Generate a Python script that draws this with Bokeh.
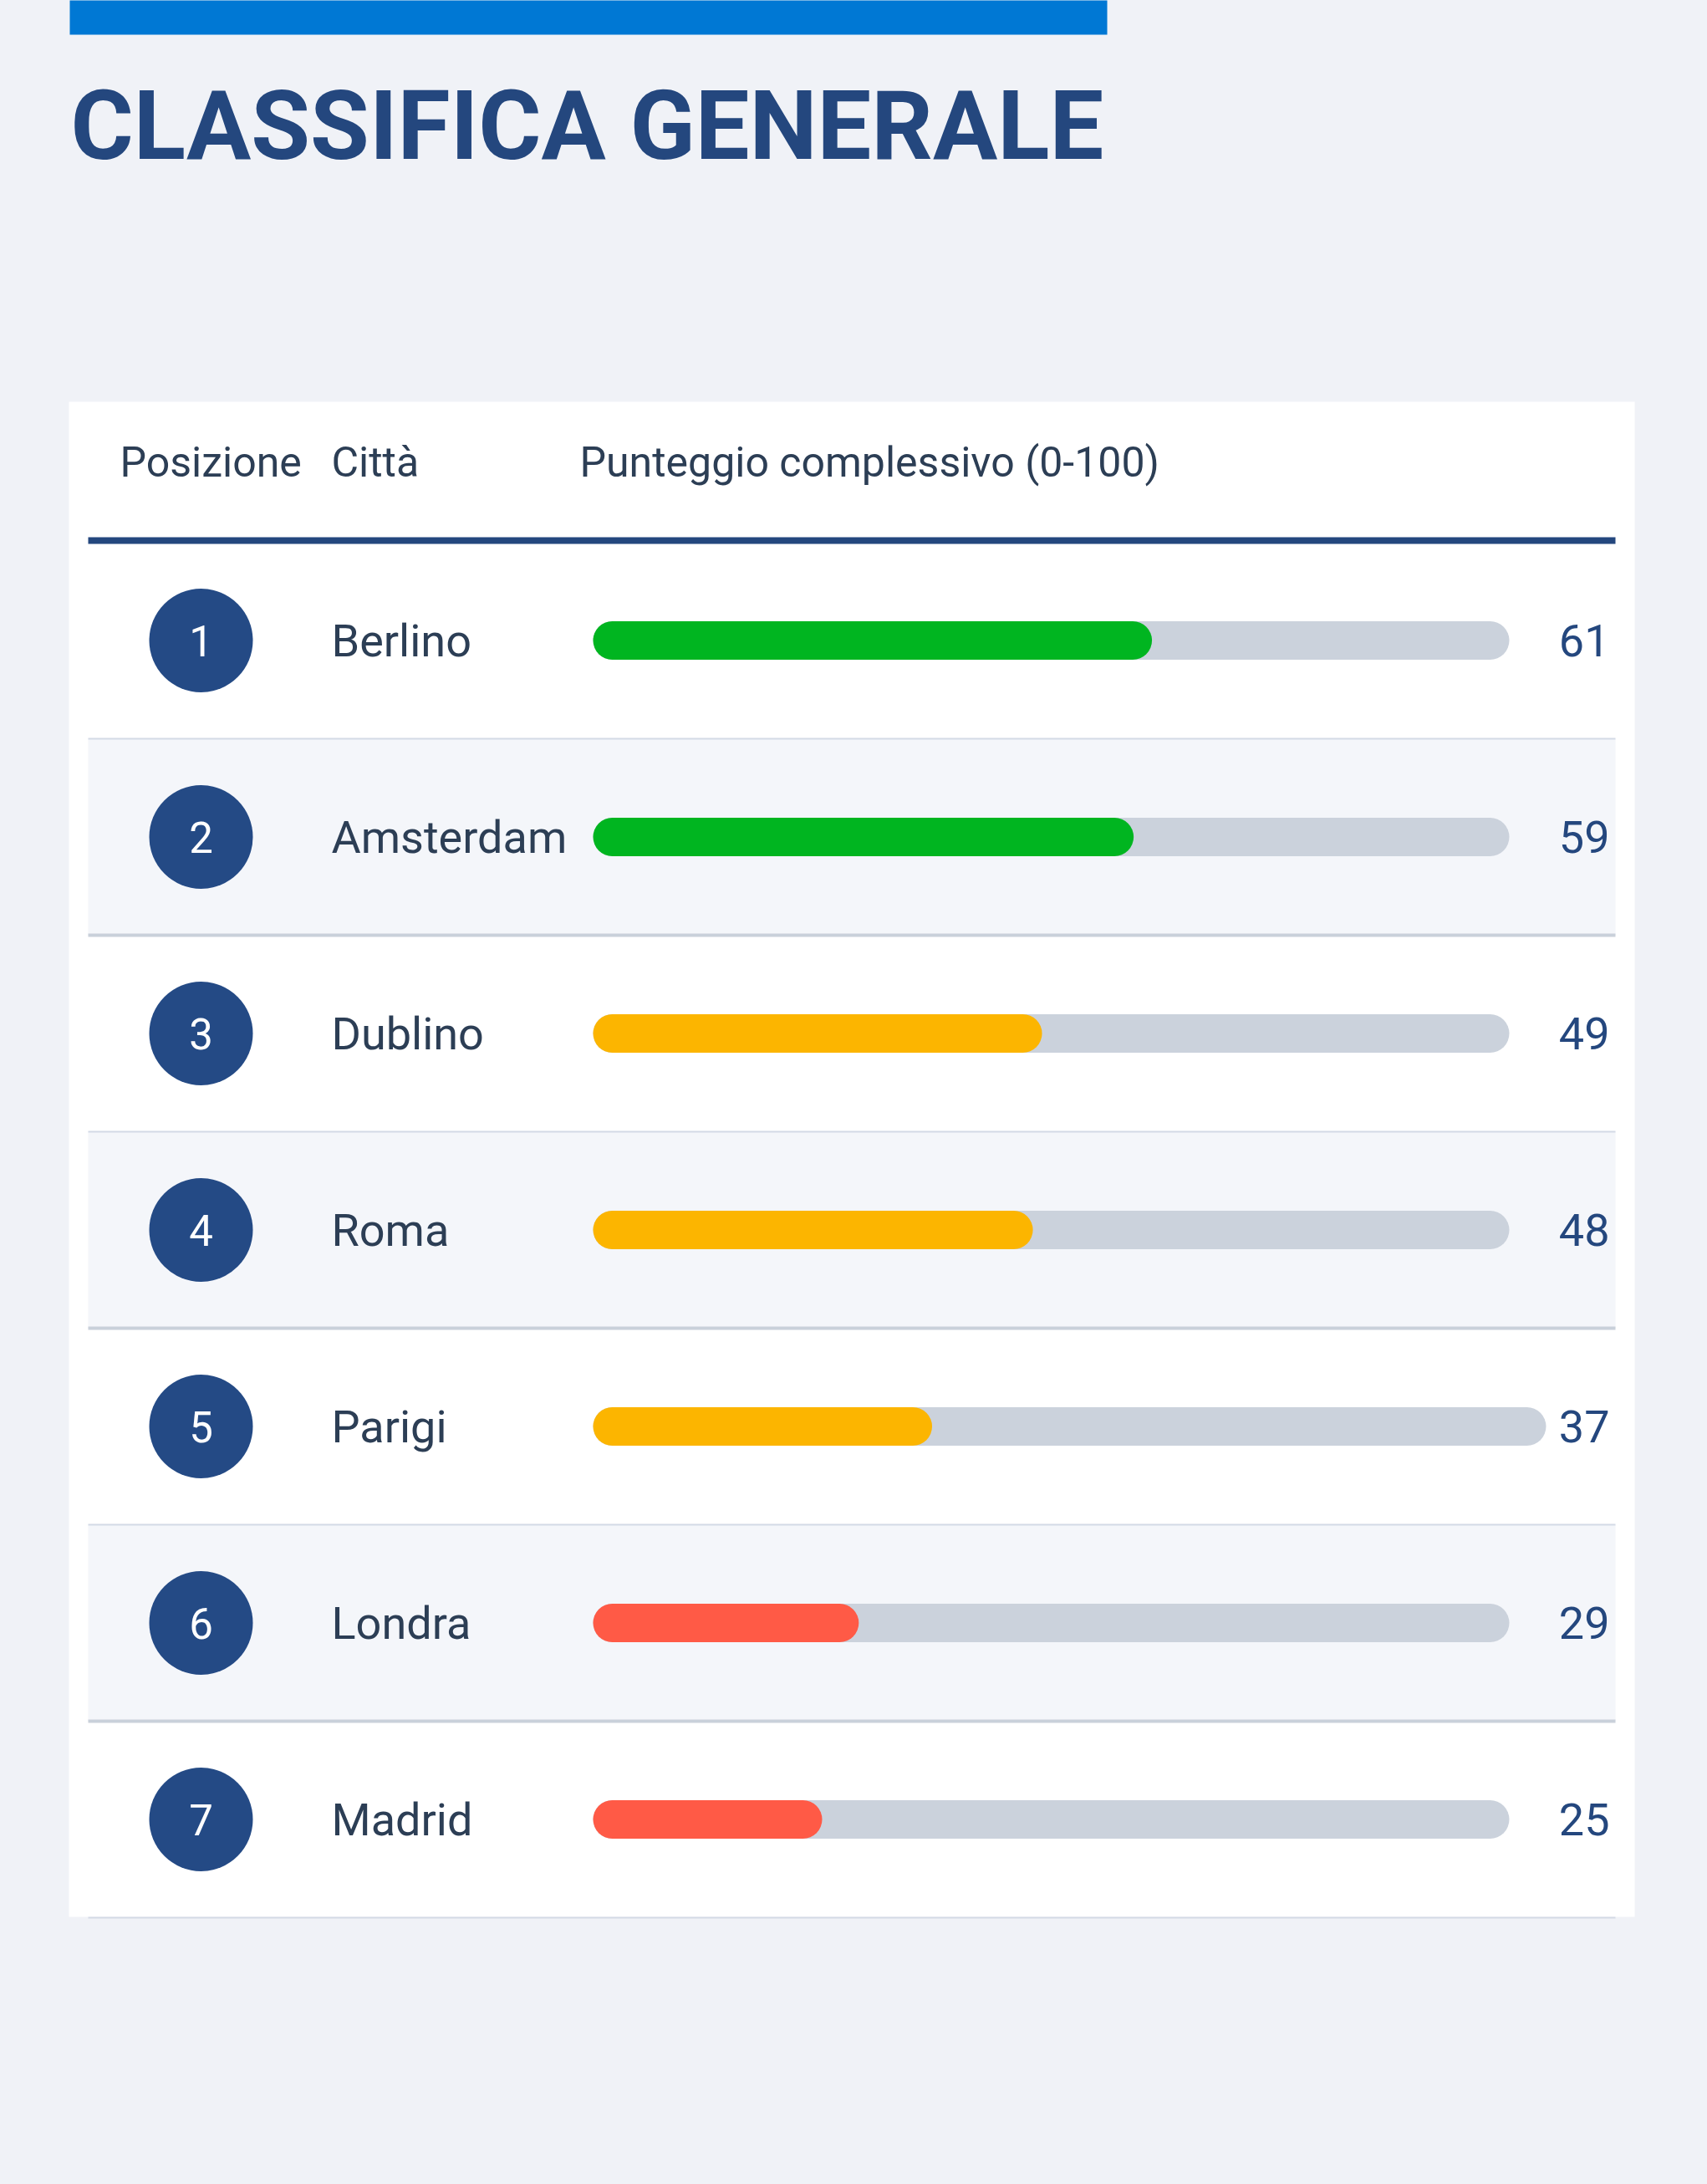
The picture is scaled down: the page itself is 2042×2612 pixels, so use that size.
import numpy as np
from bokeh.core.properties import value
from bokeh.embed import file_html
from bokeh.models import Range1d
from bokeh.plotting import figure
from bokeh.resources import INLINE

# Ranking data
positions = [1, 2, 3, 4, 5, 6, 7]
cities = ["Berlino", "Amsterdam", "Dublino", "Roma", "Parigi", "Londra", "Madrid"]
scores = [61, 59, 49, 48, 37, 29, 25]
headers = ["Posizione", "Città", "Punteggio complessivo (0-100)"]
title_text = "CLASSIFICA GENERALE"

# colours and layout (pixel units of the page)
page_bg = "#f0f2f7"
navy = "#24477e"
slate = "#2c3e55"
track_col = "#cbd2dc"


def tier_colour(s):
    if s >= 55:
        return "#00b520"
    if s >= 35:
        return "#fcb500"
    return "#ff5a46"


W, H = 2026, 2596
row_top0 = 648
row_h = 235
bar_x0 = 709
bar_full = 1096
bar_h = 46
track_w = [1096, 1096, 1096, 1096, 1140, 1096, 1096]

n = len(cities)
idx = np.arange(n)
row_top = row_top0 + idx * row_h
row_bot = row_top + row_h
row_mid = row_top + row_h / 2
fill_end = bar_x0 + np.array(scores) / 100 * bar_full
track_end = bar_x0 + np.array(track_w)

p = figure(width=W, height=H, x_range=Range1d(0, W), y_range=Range1d(H, 0),
           output_backend="svg", toolbar_location=None, min_border=0)
p.axis.visible = False
p.grid.visible = False
p.outline_line_color = None
p.background_fill_color = page_bg
p.border_fill_color = page_bg

# top blue strip and title
p.quad(left=83, right=1324, top=-10, bottom=41, color="#0078d4", line_color=None)
p.text(x=[84], y=[150], text=[title_text], text_font=value("Roboto"),
       text_font_style="bold", text_font_size="115px", text_color=navy,
       text_baseline="middle")

# white card
p.quad(left=82, right=1955, top=480, bottom=2292, color="white", line_color=None)

# shaded even rows
even = idx[idx % 2 == 1]
p.quad(left=105, right=1932, top=row_top[even], bottom=row_bot[even],
       color="#f4f6fa", line_color=None)

# header
p.text(x=[143, 396, 693], y=[552] * 3, text=headers, text_font=value("Roboto"),
       text_font_size="50px", text_color=slate, text_baseline="middle")
p.segment(x0=105, x1=1932, y0=646, y1=646, line_color=navy, line_width=8)

# row separators
odd = idx[idx % 2 == 0]
p.segment(x0=105, x1=1932, y0=row_bot[odd], y1=row_bot[odd], line_color="#d3dae6", line_width=2)
p.segment(x0=105, x1=1932, y0=row_bot[even], y1=row_bot[even], line_color="#c9d0da", line_width=4)

# position badges
p.scatter(x=240, y=row_mid, size=124, color="#244a85", line_color=None)
p.text(x=240, y=row_mid, text=[str(v) for v in positions], text_font=value("Roboto"),
       text_font_size="51px", text_color="white", text_align="center",
       text_baseline="middle")

# city names
p.text(x=396, y=row_mid, text=cities, text_font=value("Roboto"),
       text_font_size="54px", text_color=slate, text_baseline="middle")

# score tracks and bars (round caps)
r = bar_h / 2
p.segment(x0=bar_x0 + r, x1=track_end - r, y0=row_mid, y1=row_mid,
          line_color=track_col, line_width=bar_h, line_cap="round")
p.segment(x0=bar_x0 + r, x1=fill_end - r, y0=row_mid, y1=row_mid,
          line_color=[tier_colour(s) for s in scores], line_width=bar_h, line_cap="round")

# score values
p.text(x=1925, y=row_mid, text=[str(s) for s in scores], text_font=value("Roboto"),
       text_font_size="54px", text_color=navy, text_align="right",
       text_baseline="middle")

html = file_html(p, INLINE, title="Classifica generale")
html = html.replace("<body>", '<body style="background:%s">' % page_bg)
open("out.html", "w").write(html)
